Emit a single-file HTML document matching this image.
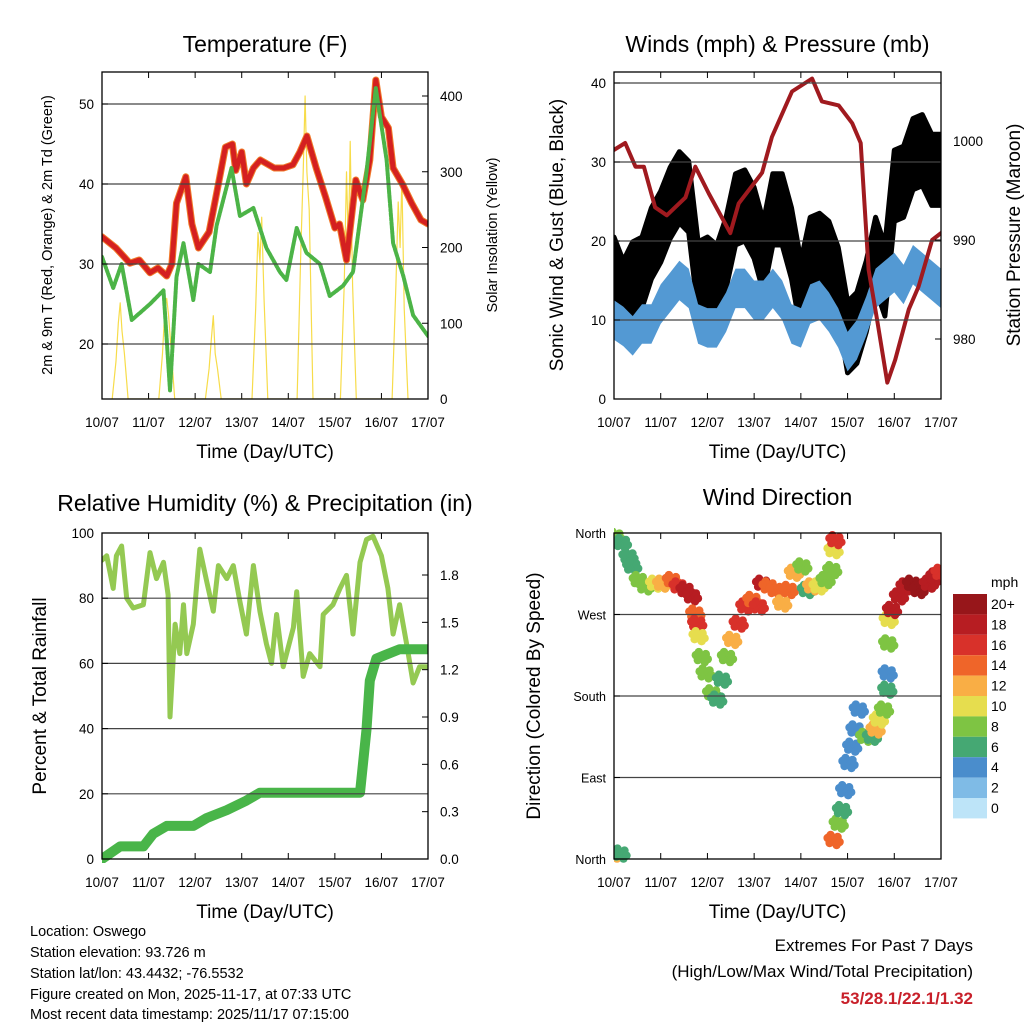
<!DOCTYPE html>
<html><head><meta charset="utf-8"><style>
body{margin:0;background:#fff;}
svg{display:block;font-family:"Liberation Sans",sans-serif;}
</style></head><body>
<svg id="c" width="1024" height="1024" viewBox="0 0 1024 1024">
<defs>
<clipPath id="clip1"><rect x="102" y="72" width="326" height="327"/></clipPath>
<clipPath id="clip2"><rect x="614" y="72" width="327" height="327"/></clipPath>
<clipPath id="clip3"><rect x="102" y="533" width="326" height="330"/></clipPath>
<clipPath id="clip4"><rect x="614" y="528" width="327" height="335"/></clipPath>
</defs>
<g id="g"></g>
<text x="30" y="936" font-size="14.5">Location: Oswego</text>
<text x="30" y="957" font-size="14.5">Station elevation: 93.726 m</text>
<text x="30" y="978" font-size="14.5">Station lat/lon: 43.4432; -76.5532</text>
<text x="30" y="999" font-size="14.5">Figure created on Mon, 2025-11-17, at 07:33 UTC</text>
<text x="30" y="1019" font-size="14.5">Most recent data timestamp: 2025/11/17 07:15:00</text>
<text x="973" y="951" font-size="17" text-anchor="end">Extremes For Past 7 Days</text>
<text x="973" y="977" font-size="17" text-anchor="end">(High/Low/Max Wind/Total Precipitation)</text>
<text x="973" y="1004" font-size="17" font-weight="bold" fill="#c8202a" text-anchor="end">53/28.1/22.1/1.32</text>
</svg>
<script>
// ---- Temperature panel data ----
const tempT=[0,0.3,0.6,0.8,1.03,1.2,1.39,1.5,1.6,1.8,1.93,2.07,2.3,2.5,2.65,2.8,2.87,3.0,3.1,3.25,3.4,3.55,3.7,3.9,4.1,4.25,4.4,4.6,4.8,5.0,5.1,5.25,5.45,5.6,5.75,5.88,6.0,6.15,6.25,6.45,6.65,6.85,7.0];
const tempV=[33.4,32,30.1,30.5,28.9,29.5,28.5,30,37.6,40.9,35,32,34,40,44.6,45,41.7,44,40,42,43,42.5,42,42,42.4,44,46,42,38.4,34.5,35,30.5,40.5,38,43,53,48.4,47,42,40,37.6,35.5,35];
const dewT=[0,0.24,0.42,0.64,1.03,1.32,1.46,1.6,1.75,1.96,2.07,2.32,2.46,2.78,2.96,3.25,3.53,3.82,3.96,4.18,4.39,4.68,4.89,5.18,5.39,5.68,5.88,6.11,6.25,6.47,6.68,7.0];
const dewV=[30.9,27,30,23,25,26.7,14.2,28.4,32.6,25.5,30,29,34.8,42,36,37,32,29,28,34.5,31.4,30,26,27.3,29,41.5,52,43,32.6,28.5,23.6,21];
const solarT=[0.22,0.3,0.35,0.39,0.43,0.48,0.56, 1.22,1.3,1.35,1.39,1.43,1.48,1.56, 2.22,2.3,2.35,2.39,2.43,2.48,2.56, 3.22,3.3,3.35,3.39,3.43,3.48,3.56, 4.19,4.27,4.32,4.36,4.4,4.45,4.53, 5.12,5.2,5.25,5.29,5.33,5.38,5.46, 6.23,6.31,6.36,6.4,6.44,6.49,6.57];
const solarV=[0,50,100,127,90,60,0, 0,60,120,133,110,70,0, 0,40,80,110,60,40,0, 0,120,220,180,240,130,0, 0,200,300,400,300,250,0, 0,150,300,200,340,150,0, 0,150,260,200,290,120,0];
const tempTicks=[20,30,40,50];
const solarTicks=[0,100,200,300,400];
// ---- Winds panel data ----
const windT=[0,.2,.4,.6,.8,1,1.2,1.4,1.6,1.8,2,2.2,2.4,2.6,2.8,3,3.2,3.4,3.6,3.8,4,4.2,4.4,4.6,4.8,5,5.2,5.4,5.6,5.8,6,6.2,6.4,6.6,6.8,7];
const windV=[10,9.2,8,9.5,9.5,12,13.5,15,14,9.5,9,9,11,14,14,12.5,12.5,14,12.5,9.5,9,12,12.5,11,9,6,7.5,10.5,14,15,16,14.5,17,16,15,14];
const gustV=[16,13,15.4,16,19.7,21.8,24.8,26.8,25.6,15.4,16,15,18.5,24,24.5,22.3,18,24,24,19.7,13,18.5,19,18,14.7,7.8,9,13,18.5,15,27,27.5,31,31.5,29,29];
const presT=[0,0.24,0.46,0.64,0.88,1.13,1.53,1.74,2.03,2.49,2.67,3.17,3.38,3.81,4.24,4.45,4.81,5.1,5.28,5.45,5.63,5.85,6.02,6.31,6.52,6.81,7.0];
const presV=[999.1,999.8,997.4,997.4,993.3,992.5,994.3,997.4,994.7,990.7,993.7,996.8,1000.4,1005,1006.3,1004,1003.6,1001.8,999.8,987,982,975.6,977.9,983,985.3,990,990.7];
const windTicks=[0,10,20,30,40];
const presTicks=[980,990,1000];
// ---- RH panel data ----
const rhT=[0,0.1,0.24,0.31,0.42,0.53,0.67,0.89,1.03,1.17,1.32,1.42,1.46,1.57,1.67,1.75,1.82,1.96,2.1,2.25,2.39,2.5,2.68,2.82,2.96,3.1,3.25,3.39,3.53,3.64,3.75,3.89,4.11,4.18,4.32,4.46,4.68,4.75,4.96,5.11,5.25,5.39,5.54,5.68,5.82,6.0,6.14,6.25,6.39,6.54,6.68,6.82,7.0];
const rhV=[91.7,93,83,93,96,80,77,78,94,86,91,81,43.6,72,63,78,63,72,95,85,76,90,86,90,79,69,90,76,66,60,75,59,71,82,56,63,59,75,78,83,87,69,91,98,99,93,83,69,78,66,54,59,59];
const precT=[0,0.39,0.89,1.1,1.39,1.96,2.25,2.68,3.1,3.39,5.54,5.68,5.75,5.89,6.39,7.0];
const precV=[0,0.08,0.08,0.16,0.21,0.21,0.26,0.31,0.37,0.42,0.42,0.82,1.13,1.27,1.33,1.33];
const rhTicks=[0,20,40,60,80,100];
const precTicks=[0,0.3,0.6,0.9,1.2,1.5,1.8];
// ---- Wind direction panel data ----
const dirT=[0,0.14,0.03,0.17,0.31,0.39,0.53,0.67,0.88,1.03,1.24,1.38,1.53,1.67,1.74,1.78,1.81,1.88,1.96,2.1,2.21,2.31,2.42,2.53,2.67,2.81,2.96,3.1,3.17,3.31,3.46,3.6,3.74,3.85,4.03,4.13,4.24,4.38,4.53,4.67,4.7,4.74,4.7,4.81,4.88,4.95,5.02,5.1,5.17,5.24,5.38,5.52,5.6,5.67,5.78,5.85,5.86,5.87,5.88,5.95,6.1,6.24,6.38,6.52,6.74,6.88,6.99];
const dirV=[6,6,356,349,334,323,308,301,304,304,308,301,297,290,271,260,246,223,205,183,176,198,223,242,260,279,286,279,304,301,297,282,297,316,323,297,301,301,308,319,341,352,21,39,54,76,106,124,143,165,135,135,143,154,165,187,205,238,264,275,290,301,304,297,304,312,316];
const dirS=[12,6,8,6,5,6,8,7,9,11,13,16,18,17,13,16,10,7,8,7,6,6,8,12,16,15,14,16,17,13,14,12,14,12,8,6,11,10,8,7,10,15,14,8,6,4,4,3,4,4,8,6,12,10,8,6,4,8,9,17,18,17,20,19,18,17,16];
const speedLevels=[0,2,4,6,8,10,12,14,16,18,20];
const speedColors=['#bde4f8','#7fbbe6','#4a8dcc','#45a873','#7ec443','#e6dd4e','#f9ae45','#ef6529','#d8312a','#b71d22','#97161a'];
const dirTicks=[0,90,180,270,360];
const dirLabels=['North','East','South','West','North'];
const dayLabels=['10/07','11/07','12/07','13/07','14/07','15/07','16/07','17/07'];

const NS='http://www.w3.org/2000/svg';
const G=document.getElementById('g');
function el(tag,attrs,parent){const e=document.createElementNS(NS,tag);for(const k in attrs)e.setAttribute(k,attrs[k]);(parent||G).appendChild(e);return e;}
function lin(d0,d1,r0,r1){return v=>r0+(v-d0)/(d1-d0)*(r1-r0);}
function txt(x,y,s,size,anchor,rot,parent){const t=el('text',{x:x,y:y,'font-size':size,'text-anchor':anchor||'middle'},parent);if(rot)t.setAttribute('transform','rotate('+rot+' '+x+' '+y+')');t.textContent=s;return t;}

function panel(name,x0,x1,y0,y1,title,titleY,clip){
  const g=el('g',{});
  
  
  const X=lin(0,7,x0,x1);
  const t=txt((x0+x1)/2,titleY,title,23,'middle',0,g);
  
  
  const xa=el('g',{},g);
  
  
  dayLabels.forEach((d,i)=>{const xx=X(i);
    el('line',{x1:xx,x2:xx,y1:y1,y2:y1-6,stroke:'#000','stroke-width':1},xa);
    el('line',{x1:xx,x2:xx,y1:y0,y2:y0+6,stroke:'#000','stroke-width':1},xa);
    txt(xx,y1+28,d,13.5,'middle',0,xa);});
  const xt=txt((x0+x1)/2,y1+59,'Time (Day/UTC)',19,'middle',0,g);
  
  
  const plot=el('g',{'clip-path':'url(#'+clip+')'},g);
  
  
  return {g,X,plot};
}
function frame(g,x0,x1,y0,y1){el('rect',{x:x0,y:y0,width:x1-x0,height:y1-y0,fill:'none',stroke:'#000','stroke-width':1.3},g);}
function grid(g,vals,Y,x0,x1,skip){vals.forEach(v=>{if(skip&&skip(v))return;el('line',{x1:x0,x2:x1,y1:Y(v),y2:Y(v),stroke:'#444','stroke-width':1.2},g);});}
function yticks(g,vals,Y,x,side,labels,size){vals.forEach((v,i)=>{const y=Y(v);
  el('line',{x1:x,x2:x+(side<0?6:-6),y1:y,y2:y,stroke:'#000','stroke-width':1},g);
  txt(side<0?x-8:x+12,y+5,labels?labels[i]:String(v),size||13.5,side<0?'end':'start',0,g);});}
function path(g,T,V,X,Y,attrs,name){const d=T.map((t,i)=>(i?'L':'M')+X(t).toFixed(1)+' '+Y(V[i]).toFixed(1)).join(' ');const p=el('path',Object.assign({d:d,fill:'none','stroke-linejoin':'round','stroke-linecap':'round'},attrs),g);return p;}

// ===== Panel 1: Temperature =====
(function(){const x0=102,x1=428,y0=72,y1=399;
 const P=panel('temperature-panel',x0,x1,y0,y1,'Temperature (F)',52,'clip1');const g=P.g,X=P.X,pl=P.plot;
 const Y=lin(20,50,344,104), YS=lin(0,400,399,96);
 grid(g,tempTicks,Y,x0,x1);
 path(pl,solarT,solarV,X,YS,{stroke:'#f7dc4a','stroke-width':1.2},'solar-insolation-line');
 path(pl,tempT,tempV,X,Y,{stroke:'#f07a2a','stroke-width':7},'temp-9m-line');
 path(pl,tempT,tempV,X,Y,{stroke:'#d42020','stroke-width':5},'temp-2m-line');
 path(pl,dewT,dewV,X,Y,{stroke:'#4cb447','stroke-width':4,'stroke-dasharray':'3 1.5'},'dewpoint-line');
 frame(g,x0,x1,y0,y1);
 yticks(g,tempTicks,Y,x0,-1);
 yticks(g,solarTicks,YS,x1,1);
 const a=txt(52,235,'2m & 9m T (Red, Orange) & 2m Td (Green)',14.5,'middle',-90,g);
 
 const b=txt(497,235,'Solar Insolation (Yellow)',14.5,'middle',-90,g);
 
})();

// ===== Panel 2: Winds =====
(function(){const x0=614,x1=941,y0=72,y1=399;
 const P=panel('winds-panel',x0,x1,y0,y1,'Winds (mph) & Pressure (mb)',52,'clip2');const g=P.g,X=P.X,pl=P.plot;
 const Y=lin(0,40,399,83), YP=lin(980,1000,339,141);
 const up=windT.map((t,i)=>X(t).toFixed(1)+','+Y(gustV[i]+4.5).toFixed(1));
 const dn=windT.map((t,i)=>X(t).toFixed(1)+','+Y(Math.max(gustV[i]-4.5,2)).toFixed(1)).reverse();
 const band=el('polygon',{points:up.concat(dn).join(' '),fill:'#000','stroke':'#000','stroke-width':5,'stroke-linejoin':'round'},pl);
 
 const wu=windT.map((t,i)=>X(t).toFixed(1)+','+Y(windV[i]+2.5).toFixed(1));
 const wd=windT.map((t,i)=>X(t).toFixed(1)+','+Y(windV[i]-2.5).toFixed(1)).reverse();
 const wb=el('polygon',{points:wu.concat(wd).join(' '),fill:'#5399d3'},pl);
 
 grid(g,windTicks.slice(1),Y,x0,x1);
 path(pl,presT,presV,X,YP,{stroke:'#a01a1f','stroke-width':4},'pressure-line');
 frame(g,x0,x1,y0,y1);
 yticks(g,windTicks,Y,x0,-1);
 yticks(g,presTicks,YP,x1,1);
 const a=txt(563,235,'Sonic Wind & Gust (Blue, Black)',19,'middle',-90,g);
 
 const b=txt(1020,235,'Station Pressure (Maroon)',19,'middle',-90,g);
 
})();

// ===== Panel 3: RH & Precip =====
(function(){const x0=102,x1=428,y0=533,y1=859;
 const P=panel('humidity-panel',x0,x1,y0,y1,'Relative Humidity (%) & Precipitation (in)',511,'clip3');const g=P.g,X=P.X,pl=P.plot;
 const Y=lin(0,100,859,533), YP=lin(0,1.8,859,575);
 grid(g,rhTicks,Y,x0,x1,v=>v===0||v===100);
 path(pl,rhT,rhV,X,Y,{stroke:'#94c952','stroke-width':5},'relative-humidity-line');
 path(pl,precT,precV,X,YP,{stroke:'#49b549','stroke-width':10},'precipitation-line');
 frame(g,x0,x1,y0,y1);
 yticks(g,rhTicks,Y,x0,-1);
 yticks(g,precTicks,YP,x1,1,precTicks.map(v=>v.toFixed(1)));
 const a=txt(46,696,'Percent & Total Rainfall',19,'middle',-90,g);
 
})();

// ===== Panel 4: Wind direction =====
(function(){const x0=614,x1=941,y0=533,y1=859;
 const P=panel('wind-direction-panel',x0,x1,y0,y1,'Wind Direction',505,'clip4');const g=P.g,X=P.X,pl=P.plot;
 const Y=lin(0,360,859,533);
 grid(g,dirTicks,Y,x0,x1,v=>v===0||v===360);
 const offs=[[0,0],[-4,3],[4,-3],[-3,-5],[3,5],[-6,-2],[6,2]];
 dirT.forEach((t,i)=>{const ci=Math.min(10,Math.round(dirS[i]/2));
   offs.forEach(o=>{const c=el('circle',{cx:(X(t)+o[0]).toFixed(1),cy:(Y(dirV[i])+o[1]).toFixed(1),r:4.2,fill:speedColors[ci]},pl);
   
   });});
 frame(g,x0,x1,y0,y1);
 yticks(g,dirTicks,Y,x0,-1,dirLabels,12.5);
 const a=txt(540,696,'Direction (Colored By Speed)',19,'middle',-90,g);
 
 const cb=el('g',{},g);
 
 
 txt(991,587,'mph',14,'start',0,cb);
 const n=speedLevels.length,h=20.4,top=594;
 for(let k=0;k<n;k++){const idx=n-1-k;
   el('rect',{x:953,y:top+k*h,width:34,height:h,fill:speedColors[idx]},cb);
   txt(991,top+k*h+15,idx===n-1?speedLevels[idx]+'+':String(speedLevels[idx]),14,'start',0,cb);}
})();
</script>
</body></html>
